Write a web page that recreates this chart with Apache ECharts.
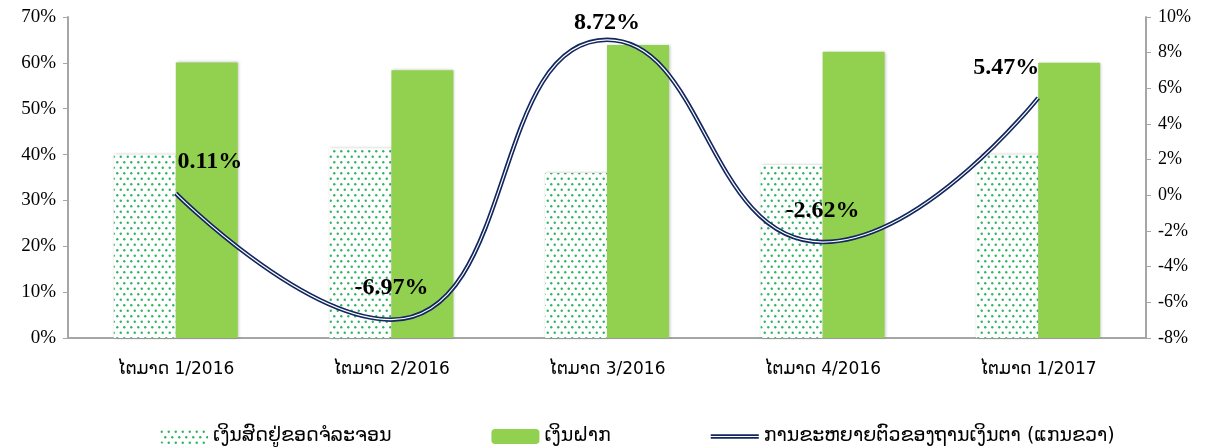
<!DOCTYPE html>
<html>
<head>
<meta charset="utf-8">
<title>chart</title>
<script src="https://cdn.jsdelivr.net/npm/echarts@6/dist/echarts.min.js"></script>
<style>
  html, body {margin:0; padding:0; background:#fff;}
  #main {width:1215px; height:448px;}
</style>
</head>
<body>
<div id="main"></div>
<script>
// data
var quarters = ['ໄຕມາດ 1/2016', 'ໄຕມາດ 2/2016', 'ໄຕມາດ 3/2016', 'ໄຕມາດ 4/2016', 'ໄຕມາດ 1/2017'];
var cashInCirculation = [40.0, 41.4, 36.0, 37.7, 40.0];
var deposits = [60.1, 58.4, 63.9, 62.4, 60.0];
var baseMoneyGrowth = [0.11, -6.97, 8.72, -2.62, 5.47];
var leftTicks = {min: 0, max: 70, step: 10};
var rightTicks = {min: -8, max: 10, step: 2};

var names = ['ເງິນສົດຢູ່ຂອດຈໍລະຈອນ', 'ເງິນຝາກ', 'ການຂະຫຍາຍຕົວຂອງຖານເງິນຕາ (ແກນຂວາ)'];

// dotted fill
function dotPattern() {
  var c = document.createElement('canvas');
  c.width = 7; c.height = 11;
  var ctx = c.getContext('2d');
  ctx.fillStyle = '#fff';
  ctx.fillRect(0, 0, 7, 11);
  ctx.fillStyle = '#2fb562';
  ctx.beginPath(); ctx.arc(1.75, 2.75, 1.2, 0, Math.PI * 2); ctx.fill();
  ctx.beginPath(); ctx.arc(5.25, 8.25, 1.2, 0, Math.PI * 2); ctx.fill();
  return c;
}

var labelOffsets = [[34, -15], [0, -15], [0, 0], [0, -14], [-32, -13]];

var main = echarts.init(document.getElementById('main'));
var serif = 'Liberation Serif';
var axisGrey = '#a6a6a6';
var navy = '#13275f';

var option = {
  animation: false,
  grid: {left: 68, right: 69, top: 17, bottom: 110},
  legend: {
    left: 155, top: 422,
    itemWidth: 48, itemHeight: 15, itemGap: 100,
    textStyle: {fontFamily: 'DejaVu Sans', fontSize: 19, color: '#000'},
    data: [
      {name: names[0], itemStyle: {color: {image: dotPattern(), repeat: 'repeat'}}},
      {name: names[1]},
      {name: names[2], icon: 'path://M0 0H100V9H0Z M0 3.5V5.5H100V3.5Z', itemStyle: {color: navy}}
    ]
  },
  xAxis: {
    type: 'category',
    data: quarters,
    axisLine: {lineStyle: {color: axisGrey, width: 2}},
    axisTick: {lineStyle: {color: axisGrey}, length: 5},
    axisLabel: {fontFamily: 'DejaVu Sans', fontSize: 17, color: '#000', margin: 23}
  },
  yAxis: [{
    type: 'value', min: leftTicks.min, max: leftTicks.max, interval: leftTicks.step,
    splitLine: {show: false},
    axisLine: {show: true, lineStyle: {color: axisGrey, width: 2}},
    axisTick: {show: true, lineStyle: {color: axisGrey}, length: 5},
    axisLabel: {formatter: '{value}%', fontFamily: serif, fontSize: 19, color: '#000', margin: 12}
  }, {
    type: 'value', min: rightTicks.min, max: rightTicks.max, interval: rightTicks.step,
    position: 'right',
    splitLine: {show: false},
    axisLine: {show: true, lineStyle: {color: axisGrey, width: 2}},
    axisTick: {show: true, lineStyle: {color: axisGrey}, length: 5},
    axisLabel: {formatter: '{value}%', fontFamily: serif, fontSize: 18, color: '#000', margin: 12}
  }],
  series: [{
    name: names[0], type: 'bar', data: cashInCirculation,
    barWidth: 62, barGap: '0%',
    itemStyle: {color: {image: dotPattern(), repeat: 'repeat'},
      shadowColor: 'rgba(0,0,0,0.25)', shadowBlur: 3, shadowOffsetX: 1}
  }, {
    name: names[1], type: 'bar', data: deposits,
    barWidth: 62, barGap: '0%',
    itemStyle: {color: '#92d050', shadowColor: 'rgba(0,0,0,0.25)', shadowBlur: 3, shadowOffsetX: 1}
  }, {
    name: names[2], type: 'line', yAxisIndex: 1, smooth: 0.5,
    symbol: 'none',
    lineStyle: {color: navy, width: 4.5},
    itemStyle: {color: navy},
    data: baseMoneyGrowth,
    z: 3
  }, {
    // white core of the double line, also carries the labels
    name: 'inner', type: 'line', yAxisIndex: 1, smooth: 0.5,
    symbol: 'circle', symbolSize: 0.1, showSymbol: true, silent: true,
    lineStyle: {color: '#ffffff', width: 1.2},
    itemStyle: {color: '#ffffff'},
    data: baseMoneyGrowth.map(function (v, i) {
      return {value: v, label: {offset: labelOffsets[i]}};
    }),
    label: {
      show: true, position: 'top', formatter: function (p) { return p.value.toFixed(2) + '%'; },
      fontFamily: serif, fontWeight: 'bold', fontSize: 24, color: '#000'
    },
    z: 4
  }]
};
main.setOption(option);
</script>
</body>
</html>
